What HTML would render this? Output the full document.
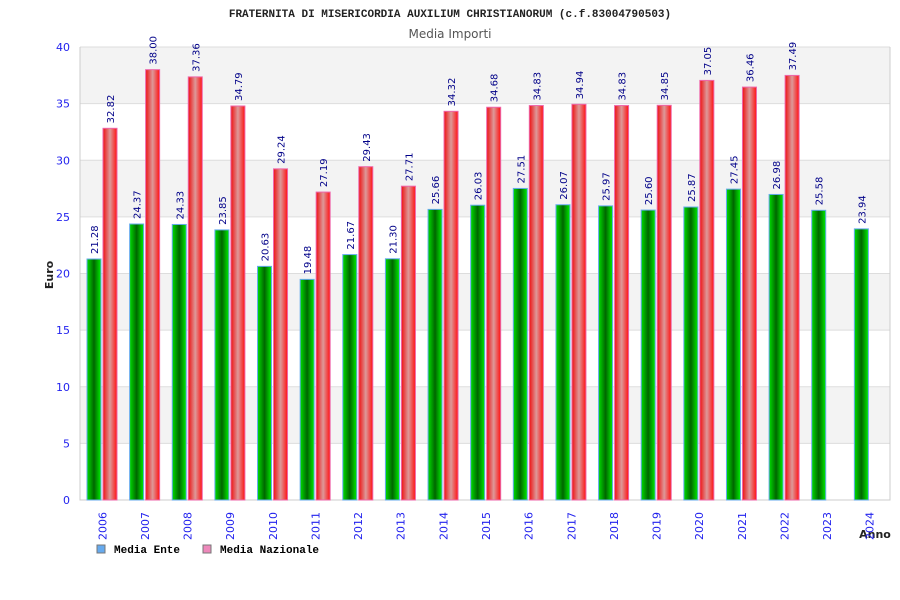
<!DOCTYPE html>
<html><head><meta charset="utf-8"><style>
body{margin:0;background:#fff}
svg{display:block;font-family:"DejaVu Sans","Liberation Sans",sans-serif}
</style></head><body>
<svg id="c" width="900" height="600">
<defs>
<linearGradient id="gG" x1="0" x2="1"><stop offset="0" stop-color="#00dd00"/><stop offset="0.5" stop-color="#006600"/><stop offset="1" stop-color="#00ee00"/></linearGradient>
<linearGradient id="gR" x1="0" x2="1"><stop offset="0" stop-color="#ee1111"/><stop offset="0.5" stop-color="#dd9999"/><stop offset="1" stop-color="#ff1111"/></linearGradient>
</defs>
<text x="450" y="17" text-anchor="middle" font-family="Liberation Mono, monospace" font-size="11" font-weight="bold" fill="#222">FRATERNITA DI MISERICORDIA AUXILIUM CHRISTIANORUM (c.f.83004790503)</text>
<text x="450" y="38" text-anchor="middle" font-size="12" fill="#555">Media Importi</text>
<text transform="translate(53,275) rotate(-90)" text-anchor="middle" font-size="11" font-weight="bold" fill="#222">Euro</text>
<text x="875" y="538" text-anchor="middle" font-size="11" font-weight="bold" fill="#222">Anno</text>
<g id="plot"></g>
<g>
<rect x="97" y="545" width="8" height="8" fill="#66aaee" stroke="#777"/>
<text x="114" y="553" font-family="Liberation Mono, monospace" font-size="11" font-weight="bold">Media Ente</text>
<rect x="203" y="545" width="8" height="8" fill="#ee88bb" stroke="#777"/>
<text x="220" y="553" font-family="Liberation Mono, monospace" font-size="11" font-weight="bold">Media Nazionale</text>
</g>
</svg>
<script>
const years=["2006","2007","2008","2009","2010","2011","2012","2013","2014","2015","2016","2017","2018","2019","2020","2021","2022","2023","2024"];
const ente=[21.28,24.37,24.33,23.85,20.63,19.48,21.67,21.30,25.66,26.03,27.51,26.07,25.97,25.60,25.87,27.45,26.98,25.58,23.94];
const nazionale=[32.82,38.00,37.36,34.79,29.24,27.19,29.43,27.71,34.32,34.68,34.83,34.94,34.83,34.85,37.05,36.46,37.49,null,null];
const yTicks=[0,5,10,15,20,25,30,35,40];
const NS="http://www.w3.org/2000/svg";
const L=80,R=890,T=47,B=500,yMax=40;
const y=v=>B-(v/yMax)*(B-T);
const step=(R-L)/years.length;
const x=i=>L+i*step;
const g=document.getElementById('plot');
function mk(t,a){const e=document.createElementNS(NS,t);for(const k in a)e.setAttribute(k,a[k]);g.appendChild(e);return e;}
for(let i=0;i<yTicks.length-1;i++){
 const band=mk('rect',{x:L,y:y(yTicks[i+1]),width:R-L,height:y(yTicks[i])-y(yTicks[i+1]),fill:i%2?'#f3f3f3':'#ffffff'});
 
 
}
yTicks.forEach(v=>{
 const l=mk('line',{x1:L,x2:R,y1:y(v),y2:y(v),stroke:'#dddddd'});
 
 
 const t=mk('text',{x:L-10,y:y(v)+4,'text-anchor':'end','font-size':11,fill:'#2222ee'});
 t.textContent=v;
 
 
});
const ax=mk('path',{d:`M${L} ${T}V${B}H${R}V${T}`,fill:'none',stroke:'#cccccc'});


function bar(v,bx,fill,stroke,name){
 if(v==null)return;
 const r=mk('rect',{x:bx,y:y(v),width:14,height:B-y(v),fill:fill,stroke:stroke,'stroke-width':1});
 
 
 const t=mk('text',{transform:`translate(${bx+11},${y(v)-5}) rotate(-90)`,'font-size':10,fill:'#000088'});
 t.textContent=v.toFixed(2);
 
 
}
years.forEach((yr,i)=>{
 const gx=x(i)+7;
 bar(ente[i],gx,'url(#gG)','#66aaee','bar-ente-'+yr);
 bar(nazionale[i],gx+16,'url(#gR)','#ee66aa','bar-nazionale-'+yr);
 const t=mk('text',{transform:`translate(${x(i)+step/2+5},${B+12}) rotate(-90)`,'text-anchor':'end','font-size':11,fill:'#2222ee'});
 t.textContent=yr;
 
 
});
</script>
</body></html>
